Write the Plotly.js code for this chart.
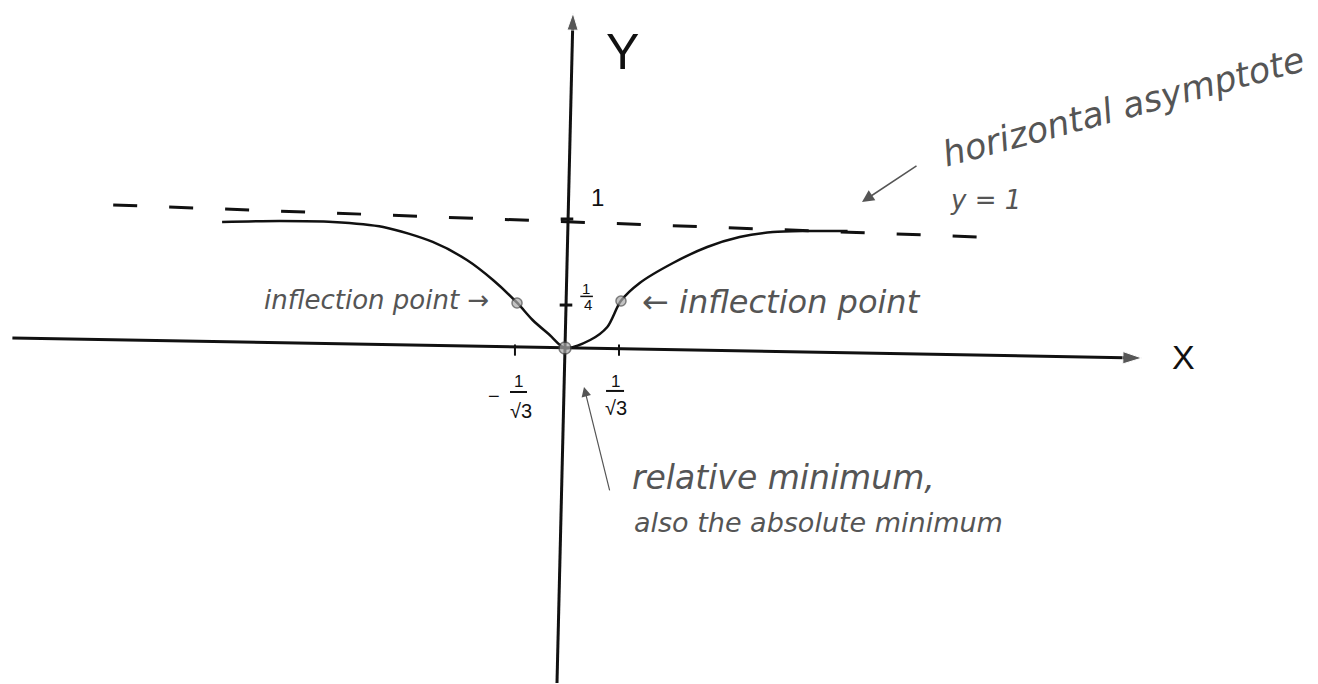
<!DOCTYPE html>
<html>
<head>
<meta charset="utf-8">
<script src="https://cdn.plot.ly/plotly-3.0.1.min.js"></script>
<style>html,body{margin:0;padding:0;background:#fff;}#chart{width:1318px;height:684px;}</style>
</head>
<body>
<div id="chart"></div>
<script>
// Curve sketch of y = x^2/(x^2+1) (sketch units)
var curveX = [-3.81, -3.17, -2.58, -2.02, -1.47, -1.09, -0.80, -0.53, -0.36, -0.17, 0.00, 0.28, 0.47, 0.62, 0.83, 1.20, 1.58, 1.94, 2.31, 2.69, 3.14];
var curveY = [0.977, 0.984, 0.977, 0.938, 0.822, 0.682, 0.527, 0.349, 0.217, 0.101, 0.000, 0.062, 0.163, 0.364, 0.504, 0.659, 0.783, 0.860, 0.899, 0.907, 0.907];

// horizontal asymptote y = 1 (drawn slightly tilted in the sketch)
var asymX = [-5.02, 4.61];
var asymY = [1.109, 0.860];

// axes as drawn
var xAxisX = [-6.14, 6.41];
var xAxisY = [0.078, -0.078];
var yAxisX = [-0.089, 0.089];
var yAxisY = [-2.597, 2.597];

// special points: inflection (left, right) and minimum
var pointX = [-0.533, 0.622, 0.0];
var pointY = [0.349, 0.364, 0.0];
var pointSize = [10, 10, 12];

// tick marks
var xTickX = [-0.556, 0.600];
var xTickY = [-0.016, -0.016];
var yTickX = [0.011, 0.022];
var yTickY = [0.333, 1.0];

var ink = '#111';
var pencil = '#555';
var hand = 'DejaVu Sans, sans-serif';
var plain = 'Liberation Sans, DejaVu Sans, sans-serif';

var traces = [
  {x: asymX, y: asymY, mode: 'lines', line: {color: ink, width: 3, dash: '24px,32px'}, hoverinfo: 'skip'},
  {x: xAxisX, y: xAxisY, mode: 'lines+markers', line: {color: ink, width: 3},
   marker: {symbol: 'arrow', angleref: 'previous', size: [0, 20], color: ink}, hoverinfo: 'skip'},
  {x: yAxisX, y: yAxisY, mode: 'lines+markers', line: {color: ink, width: 3},
   marker: {symbol: 'arrow', angleref: 'previous', size: [0, 18], color: ink}, hoverinfo: 'skip'},
  {x: curveX, y: curveY, mode: 'lines', line: {color: ink, width: 2.5, shape: 'spline', smoothing: 0.8}, hoverinfo: 'skip'},
  {x: xTickX, y: xTickY, mode: 'markers', marker: {symbol: 'line-ns', size: 8, line: {color: ink, width: 2}}, hoverinfo: 'skip'},
  {x: yTickX, y: yTickY, mode: 'markers', marker: {symbol: 'line-ew', size: 9, line: {color: ink, width: 3}}, hoverinfo: 'skip'},
  {x: pointX, y: pointY, mode: 'markers', marker: {size: pointSize, color: '#aaa', line: {color: '#444', width: 1.5}}, hoverinfo: 'skip'}
];

function txt(x, y, text, size, color, extra, family, style) {
  var a = {x: x, y: y, xref: 'x', yref: 'y', text: text, showarrow: false,
           font: {family: family || plain, size: size, color: color, style: style || 'normal'}};
  if (extra) { for (var k in extra) a[k] = extra[k]; }
  return a;
}

var annotations = [
  txt(0.644, 2.295, 'Y', 50, ink),
  txt(6.867, -0.07, 'X', 34, ink),
  txt(0.356, 1.163, '1', 24, ink),
  txt(0.233, 0.46, '1', 15, ink),
  txt(0.256, 0.335, '4', 15, ink),
  txt(-0.79, -0.372, '−', 20, ink),
  txt(-0.522, -0.262, '1', 17, ink),
  txt(-0.489, -0.49, '√3', 20, ink),
  txt(0.556, -0.262, '1', 17, ink),
  txt(0.567, -0.468, '√3', 20, ink),
  txt(-2.089, 0.372, 'inflection point →', 26, pencil, null, hand, 'italic'),
  txt(2.40, 0.357, '← inflection point', 32, pencil, null, hand, 'italic'),
  txt(6.2, 1.87, 'horizontal asymptote', 35, pencil, {textangle: -15}, hand, 'italic'),
  txt(4.667, 1.147, 'y = 1', 26, pencil, null, hand, 'italic'),
  txt(0.722, -1.0, 'relative minimum,', 33, pencil, {xanchor: 'left'}, hand, 'italic'),
  txt(0.744, -1.349, 'also the absolute minimum', 27, pencil, {xanchor: 'left'}, hand, 'italic'),
  {x: 3.3, y: 1.132, xref: 'x', yref: 'y', ax: 56, ay: -37, text: '', showarrow: true,
   arrowhead: 2, arrowsize: 1.6, arrowwidth: 1.5, arrowcolor: pencil},
  {x: 0.211, y: -0.302, xref: 'x', yref: 'y', ax: 26, ay: 105, text: '', showarrow: true,
   arrowhead: 2, arrowsize: 1.6, arrowwidth: 1.2, arrowcolor: pencil}
];

var shapes = [
  {type: 'line', xref: 'x', yref: 'y', x0: 0.17, x1: 0.31, y0: 0.40, y1: 0.40, line: {color: ink, width: 1.5}},
  {type: 'line', xref: 'x', yref: 'y', x0: -0.611, x1: -0.422, y0: -0.341, y1: -0.341, line: {color: ink, width: 2}},
  {type: 'line', xref: 'x', yref: 'y', x0: 0.456, x1: 0.656, y0: -0.333, y1: -0.333, line: {color: ink, width: 2}}
];

var layout = {
  width: 1318, height: 684,
  margin: {l: 0, r: 0, t: 0, b: 0},
  paper_bgcolor: '#fff', plot_bgcolor: '#fff',
  showlegend: false,
  xaxis: {range: [-6.2778, 8.3667], visible: false, showgrid: false, zeroline: false, fixedrange: true},
  yaxis: {range: [-2.6047, 2.6977], visible: false, showgrid: false, zeroline: false, fixedrange: true},
  annotations: annotations,
  shapes: shapes
};

Plotly.newPlot('chart', traces, layout, {staticPlot: true, displayModeBar: false});
</script>
</body>
</html>
